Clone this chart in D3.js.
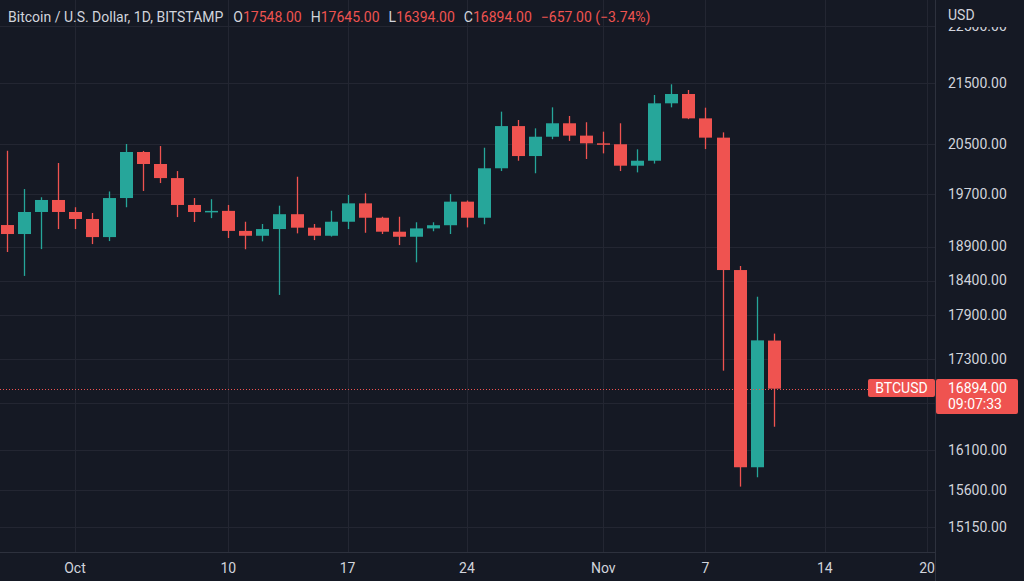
<!DOCTYPE html>
<html>
<head>
<meta charset="utf-8">
<script src="https://cdn.jsdelivr.net/npm/d3@7.9.0/dist/d3.min.js"></script>
<style>
  html, body { margin: 0; padding: 0; background: #151924; overflow: hidden; }
  svg { display: block; font-family: Roboto, "Liberation Sans", sans-serif; }
</style>
</head>
<body>
<div id="chart"></div>
<script>
// ---------- DATA ----------
const dates = [
  '2022-09-27', '2022-09-28', '2022-09-29', '2022-09-30', '2022-10-01', '2022-10-02',
  '2022-10-03', '2022-10-04', '2022-10-05', '2022-10-06', '2022-10-07', '2022-10-08',
  '2022-10-09', '2022-10-10', '2022-10-11', '2022-10-12', '2022-10-13', '2022-10-14',
  '2022-10-15', '2022-10-16', '2022-10-17', '2022-10-18', '2022-10-19', '2022-10-20',
  '2022-10-21', '2022-10-22', '2022-10-23', '2022-10-24', '2022-10-25', '2022-10-26',
  '2022-10-27', '2022-10-28', '2022-10-29', '2022-10-30', '2022-10-31', '2022-11-01',
  '2022-11-02', '2022-11-03', '2022-11-04', '2022-11-05', '2022-11-06', '2022-11-07',
  '2022-11-08', '2022-11-09', '2022-11-10', '2022-11-11'
];
const opens = [
  19224, 19088, 19423, 19608, 19423, 19316, 19042, 19638, 20365, 20173, 19950, 19531,
  19423, 19440, 19135, 19062, 19163, 19389, 19184, 19062, 19274, 19556, 19335, 19123,
  19047, 19173, 19221, 19582, 19335, 20105, 20786, 20300, 20612, 20832, 20630, 20505,
  20490, 20146, 20225, 21163, 21319, 20913, 20597, 18553, 15878, 17548
];
const highs = [
  20385, 19778, 19650, 20189, 19496, 19408, 19740, 20494, 20382, 20461, 20061, 19638,
  19620, 19531, 19274, 19240, 19520, 19971, 19240, 19442, 19685, 19711, 19350, 19350,
  19266, 19266, 19700, 19600, 20434, 21024, 20886, 20749, 21096, 20952, 20849, 20694,
  20832, 20408, 21302, 21483, 21387, 21090, 20683, 18612, 18166, 17645
];
const lows = [
  18819, 18467, 18862, 19163, 19163, 18937, 18982, 19496, 19748, 19872, 19345, 19270,
  19329, 19028, 18860, 18978, 18192, 19098, 18997, 19050, 19163, 19107, 19088, 18922,
  18666, 19130, 19088, 19188, 19236, 20061, 20225, 20026, 20572, 20544, 20253, 20343,
  20061, 20040, 20180, 21096, 20900, 20412, 17136, 15637, 15753, 16394
];
const closes = [
  19088, 19423, 19608, 19423, 19316, 19042, 19638, 20365, 20173, 19950, 19531, 19423,
  19440, 19135, 19062, 19163, 19389, 19184, 19062, 19274, 19556, 19335, 19123, 19047,
  19173, 19221, 19582, 19335, 20105, 20786, 20300, 20612, 20832, 20630, 20505, 20490,
  20146, 20225, 21163, 21319, 20913, 20597, 18553, 15878, 17551, 16894
];
const priceTicks = [22500, 21500, 20500, 19700, 18900, 18400, 17900, 17300, 16700, 16100, 15600, 15150];
const dateTicks = ['2022-10-01', '2022-10-10', '2022-10-17', '2022-10-24', '2022-11-01', '2022-11-07', '2022-11-14', '2022-11-20'];
const dateTickLabels = ['Oct', '10', '17', '24', 'Nov', '7', '14', '20'];
const title = 'Bitcoin / U.S. Dollar, 1D, BITSTAMP';
const symbol = 'BTCUSD';
const countdown = '09:07:33';

// ---------- SETUP ----------
const width = 1024;
const height = 581;
const plotRight = 935;
const plotBottom = 552;
const fontSize = 14;

const bg = '#151924';
const gridColor = '#232632';
const borderColor = '#2d313d';
const textColor = '#d1d4dc';
const upColor = '#26a69a';
const downColor = '#ef5350';

const parseDate = d3.utcParse('%Y-%m-%d');
const candles = dates.map((d, i) => ({
  date: parseDate(d),
  open: opens[i],
  high: highs[i],
  low: lows[i],
  close: closes[i],
}));

const xScale = d3.scaleUtc()
  .domain([parseDate('2022-10-01'), parseDate('2022-11-20')])
  .range([75, 927]);

const yScale = d3.scaleLog()
  .domain([21500, 15150])
  .range([83.3, 526.7]);

const svg = d3.select('#chart').append('svg')
  .attr('width', width)
  .attr('height', height);

svg.append('rect').attr('width', width).attr('height', height).attr('fill', bg);

// --- Gridlines
const grid = svg.append('g').attr('class', 'grid');
grid.selectAll('line.h')
  .data(priceTicks)
  .join('line')
  .attr('class', 'h')
  .attr('x1', 0).attr('x2', plotRight)
  .attr('y1', (d) => Math.round(yScale(d)) + 0.5)
  .attr('y2', (d) => Math.round(yScale(d)) + 0.5)
  .attr('stroke', gridColor);

grid.selectAll('line.v')
  .data(dateTicks)
  .join('line')
  .attr('class', 'v')
  .attr('x1', (d) => Math.round(xScale(parseDate(d))) + 0.5)
  .attr('x2', (d) => Math.round(xScale(parseDate(d))) + 0.5)
  .attr('y1', 0).attr('y2', plotBottom)
  .attr('stroke', gridColor);

// --- Candles
const step = xScale(parseDate('2022-10-02')) - xScale(parseDate('2022-10-01'));
const bodyW = Math.round(step * 0.76);
const g = svg.append('g').attr('class', 'candles');
const color = (d) => (d.close >= d.open ? upColor : downColor);

g.selectAll('line.wick')
  .data(candles)
  .join('line')
  .attr('class', 'wick')
  .attr('x1', (d) => Math.round(xScale(d.date)) + 0.5)
  .attr('x2', (d) => Math.round(xScale(d.date)) + 0.5)
  .attr('y1', (d) => yScale(d.high))
  .attr('y2', (d) => yScale(d.low))
  .attr('stroke', color)
  .attr('stroke-width', 1.3);

g.selectAll('rect.body')
  .data(candles)
  .join('rect')
  .attr('class', 'body')
  .attr('x', (d) => Math.round(xScale(d.date)) + 0.5 - bodyW / 2)
  .attr('width', bodyW)
  .attr('y', (d) => yScale(Math.max(d.open, d.close)))
  .attr('height', (d) => Math.max(1.5, yScale(Math.min(d.open, d.close)) - yScale(Math.max(d.open, d.close))))
  .attr('fill', color);

// --- Last price dotted line
const last = candles[candles.length - 1];
const prev = candles[candles.length - 2];
const lastY = Math.round(yScale(last.close)) + 0.5;
svg.append('line')
  .attr('x1', 0).attr('x2', 868)
  .attr('y1', lastY).attr('y2', lastY)
  .attr('stroke', downColor)
  .attr('stroke-width', 1)
  .attr('stroke-dasharray', '1 2');

// --- Axes borders
svg.append('line')
  .attr('x1', 0).attr('x2', plotRight)
  .attr('y1', plotBottom + 0.5).attr('y2', plotBottom + 0.5)
  .attr('stroke', borderColor);
svg.append('line')
  .attr('x1', plotRight + 0.5).attr('x2', plotRight + 0.5)
  .attr('y1', 0).attr('y2', height)
  .attr('stroke', borderColor);

// --- Price axis labels
const fmt = d3.format('.2f');
svg.append('g')
  .selectAll('text')
  .data(priceTicks.filter((d) => d !== 16700))
  .join('text')
  .attr('x', 948)
  .attr('y', (d) => yScale(d))
  .attr('dy', '0.35em')
  .attr('fill', textColor)
  .attr('font-size', fontSize)
  .text((d) => fmt(d));

// header of price axis covers the top label
svg.append('rect')
  .attr('x', plotRight + 1).attr('y', 0)
  .attr('width', width - plotRight - 1).attr('height', 27)
  .attr('fill', bg);
svg.append('text')
  .attr('x', 948).attr('y', 15)
  .attr('dy', '0.35em')
  .attr('fill', textColor)
  .attr('font-size', fontSize)
  .text('USD');

// --- Date axis labels
svg.append('g')
  .selectAll('text')
  .data(dateTicks)
  .join('text')
  .attr('x', (d) => xScale(parseDate(d)))
  .attr('y', 568)
  .attr('dy', '0.35em')
  .attr('text-anchor', 'middle')
  .attr('fill', textColor)
  .attr('font-size', fontSize)
  .text((d, i) => dateTickLabels[i]);

// --- Last price labels
svg.append('rect')
  .attr('x', 868).attr('y', 379)
  .attr('width', 67).attr('height', 18)
  .attr('rx', 2)
  .attr('fill', downColor);
svg.append('text')
  .attr('x', 901.5).attr('y', 388)
  .attr('dy', '0.35em')
  .attr('text-anchor', 'middle')
  .attr('fill', '#ffffff')
  .attr('font-size', fontSize)
  .text(symbol);

svg.append('rect')
  .attr('x', 936).attr('y', 379)
  .attr('width', 82).attr('height', 35)
  .attr('rx', 2)
  .attr('fill', downColor);
svg.append('text')
  .attr('x', 948).attr('y', 388)
  .attr('dy', '0.35em')
  .attr('fill', '#ffffff')
  .attr('font-size', fontSize)
  .text(fmt(last.close));
svg.append('text')
  .attr('x', 948).attr('y', 404)
  .attr('dy', '0.35em')
  .attr('fill', '#ffffff')
  .attr('font-size', fontSize)
  .text(countdown);

// --- Title / OHLC legend
const change = last.close - prev.close;
const pct = change / prev.close;
const minus = (v) => (v < 0 ? '\u2212' + fmt(-v) : fmt(v));
const valColor = last.close >= last.open ? upColor : downColor;
const legend = svg.append('text')
  .attr('x', 8).attr('y', 17)
  .attr('dy', '0.35em')
  .attr('font-size', fontSize)
  .attr('fill', textColor);
legend.append('tspan').text(title);
[['O', last.open], ['H', last.high], ['L', last.low], ['C', last.close]].forEach(([k, v], i) => {
  legend.append('tspan').attr('dx', i === 0 ? 10 : 9).text(k);
  legend.append('tspan').attr('fill', valColor).text(fmt(v));
});
legend.append('tspan').attr('dx', 9).attr('fill', valColor)
  .text(`${minus(change)} (${minus(pct * 100)}%)`);
</script>
</body>
</html>
